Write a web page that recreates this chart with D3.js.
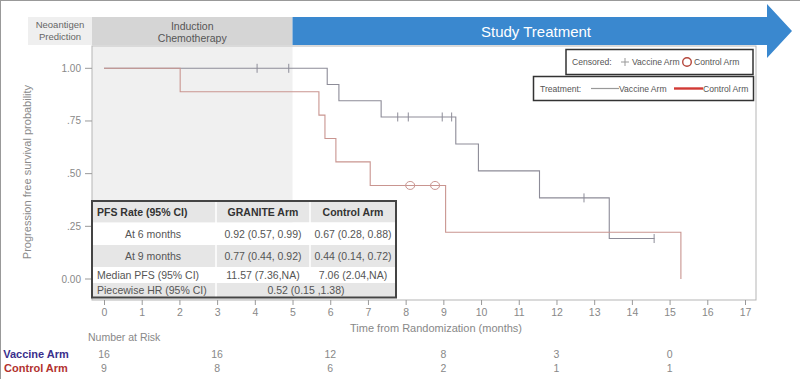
<!DOCTYPE html>
<html><head><meta charset="utf-8">
<script src="https://cdn.jsdelivr.net/npm/d3@7"></script>
<style>
body{margin:0;background:#fff;}
svg{display:block;font-family:"Liberation Sans",Arial,sans-serif;}
</style></head>
<body>
<svg id="c" width="800" height="379"></svg>
<script>
// ---- data ----
const xTicks = d3.range(0, 18);
const yTicks = [0, 0.25, 0.5, 0.75, 1];
const yTickLabels = ["0.00", ".25", ".50", ".75", "1.00"];

const vaccineTimes = [0, 5.92, 6.23, 7.35, 9.33, 9.93, 11.55, 13.40, 14.60];
const vaccineSurv  = [1, 0.923, 0.846, 0.769, 0.641, 0.513, 0.385, 0.192, 0.192];
const vaccineCensor = [4.06, 4.90, 7.79, 8.07, 8.97, 9.22, 12.73, 14.59];

const controlTimes = [0, 2.02, 5.70, 5.86, 6.15, 7.06, 9.06, 15.30];
const controlSurv  = [1, 0.889, 0.778, 0.667, 0.556, 0.444, 0.222, 0];
const controlCensor = [8.12, 8.78];

const riskTimes = [0, 3, 6, 9, 12, 15];
const vaccineRisk = [16, 16, 12, 8, 3, 0];
const controlRisk = [9, 8, 6, 2, 1, 1];

const tableHeader = ["PFS Rate (95% CI)", "GRANITE Arm", "Control Arm"];
const tableRow6 = ["At 6 months", "0.92 (0.57, 0.99)", "0.67 (0.28, 0.88)"];
const tableRow9 = ["At 9 months", "0.77 (0.44, 0.92)", "0.44 (0.14, 0.72)"];
const tableMedian = ["Median PFS (95% CI)", "11.57 (7.36,NA)", "7.06 (2.04,NA)"];
const tableHR = ["Piecewise HR (95% CI)", "0.52 (0.15 ,1.38)"];

// ---- drawing ----
const svg = d3.select("#c");
const x = d3.scaleLinear().domain([0, 17]).range([104, 745]);
const y = d3.scaleLinear().domain([0, 1]).range([279, 68.3]);

const vCol = "#8d8c98", cCol = "#c99590";

// outer border (top & left)
svg.append("line").attr("x1",0).attr("x2",800).attr("y1",0.5).attr("y2",0.5).attr("stroke","#999");
svg.append("line").attr("x1",0.5).attr("x2",0.5).attr("y1",0).attr("y2",379).attr("stroke","#999");

// shaded induction region
svg.append("rect").attr("x",92).attr("y",47).attr("width",x(5)-92).attr("height",300-47).attr("fill","#f0f0f0");

// plot frame
svg.append("rect").attr("x",92).attr("y",46).attr("width",756-92).attr("height",300-46)
  .attr("fill","none").attr("stroke","#b5b5b5").attr("stroke-width",1);

// header boxes
svg.append("rect").attr("x",28).attr("y",17).attr("width",64).attr("height",28).attr("fill","#efefef");
svg.append("rect").attr("x",92).attr("y",17).attr("width",x(5)-92).attr("height",28).attr("fill","#d5d5d5");
const hdrT = svg.append("g").attr("fill","#666");
hdrT.append("text").attr("x",60).attr("y",28).attr("text-anchor","middle").attr("font-size",9.5).text("Neoantigen");
hdrT.append("text").attr("x",60).attr("y",40).attr("text-anchor","middle").attr("font-size",9.5).text("Prediction");
hdrT.append("text").attr("x",(92+x(5))/2).attr("y",30).attr("text-anchor","middle").attr("font-size",10.5).attr("fill","#555").text("Induction");
hdrT.append("text").attr("x",(92+x(5))/2).attr("y",41.5).attr("text-anchor","middle").attr("font-size",10.5).attr("fill","#555").text("Chemotherapy");

// blue arrow
const ax0 = x(5), ab = 767;
svg.append("path")
  .attr("d", `M${ax0},17 L${ab},17 L${ab},4 L792,31 L${ab},58 L${ab},45 L${ax0},45 Z`)
  .attr("fill","#3a88cf");
svg.append("text").attr("x",536).attr("y",36.5).attr("text-anchor","middle").attr("font-size",15)
  .attr("fill","#fff").text("Study Treatment");

// y axis ticks
const yg = svg.append("g");
yTicks.forEach((t,i)=>{
  yg.append("line").attr("x1",85).attr("x2",92).attr("y1",y(t)).attr("y2",y(t)).attr("stroke","#999");
  yg.append("text").attr("x",81).attr("y",y(t)+3.5).attr("text-anchor","end").attr("font-size",10)
    .attr("fill","#888").text(yTickLabels[i]);
});
svg.append("text").attr("transform","translate(31,172) rotate(-90)").attr("text-anchor","middle")
  .attr("font-size",11).attr("fill","#8a8a8a").text("Progression free survival probability");

// x axis
const narrow = "'Liberation Sans',Arial,sans-serif";
const xg = svg.append("g").attr("transform","translate(0,300)")
  .call(d3.axisBottom(x).tickValues(xTicks).tickFormat(d3.format("d")).tickSize(5).tickPadding(4));
xg.select(".domain").remove();
xg.selectAll("line").attr("stroke","#999");
xg.selectAll("text").attr("fill","#888").attr("font-size",10.5).attr("font-family",narrow);
svg.append("text").attr("x",436).attr("y",332).attr("text-anchor","middle").attr("font-size",11)
  .attr("fill","#888").attr("font-family",narrow)
  .text("Time from Randomization (months)");

// KM curves
const line = d3.line().x(d=>x(d[0])).y(d=>y(d[1])).curve(d3.curveStepAfter);
const vPts = vaccineTimes.map((t,i)=>[t, vaccineSurv[i]]);
const cPts = controlTimes.map((t,i)=>[t, controlSurv[i]]);
svg.append("path").attr("d",line(vPts)).attr("fill","none").attr("stroke",vCol).attr("stroke-width",1.1);
svg.append("path").attr("d",line(cPts)).attr("fill","none").attr("stroke",cCol).attr("stroke-width",1.1);

function survAt(times, surv, t){ let s = surv[0]; for(let i=0;i<times.length;i++){ if(times[i]<=t) s=surv[i]; } return s; }
vaccineCensor.forEach(t=>{
  const s = survAt(vaccineTimes, vaccineSurv, t);
  svg.append("line").attr("x1",x(t)).attr("x2",x(t)).attr("y1",y(s)-4.5).attr("y2",y(s)+4.5)
    .attr("stroke",vCol).attr("stroke-width",1);
});
controlCensor.forEach(t=>{
  const s = survAt(controlTimes, controlSurv, t);
  svg.append("ellipse").attr("cx",x(t)).attr("cy",y(s)).attr("rx",4.5).attr("ry",4)
    .attr("fill","none").attr("stroke",cCol).attr("stroke-width",1);
});

// legends
const lf = 8.6;
const lg1 = svg.append("g");
lg1.append("rect").attr("x",566).attr("y",49.5).attr("width",187).attr("height",25)
  .attr("fill","#fff").attr("stroke","#333").attr("stroke-width",1.5);
lg1.append("text").attr("x",572).attr("y",65).attr("font-size",lf).attr("fill","#555").text("Censored:");
lg1.append("line").attr("x1",621).attr("x2",629).attr("y1",62).attr("y2",62).attr("stroke","#999");
lg1.append("line").attr("x1",625).attr("x2",625).attr("y1",58).attr("y2",66).attr("stroke","#999");
lg1.append("text").attr("x",632).attr("y",65).attr("font-size",lf).attr("fill","#555").text("Vaccine Arm");
lg1.append("circle").attr("cx",687).attr("cy",62).attr("r",4.3).attr("fill","none").attr("stroke","#b5473c").attr("stroke-width",1.4);
lg1.append("text").attr("x",694).attr("y",65).attr("font-size",lf).attr("fill","#555").text("Control Arm");

const lg2 = svg.append("g");
lg2.append("rect").attr("x",533.5).attr("y",76.5).attr("width",220).attr("height",24)
  .attr("fill","#fff").attr("stroke","#333").attr("stroke-width",1.5);
lg2.append("text").attr("x",540).attr("y",91.5).attr("font-size",lf).attr("fill","#555").text("Treatment:");
lg2.append("line").attr("x1",591).attr("x2",619).attr("y1",88.5).attr("y2",88.5).attr("stroke","#999").attr("stroke-width",1.2);
lg2.append("text").attr("x",619).attr("y",91.5).attr("font-size",lf).attr("fill","#555").text("Vaccine Arm");
lg2.append("line").attr("x1",674).attr("x2",703).attr("y1",88.5).attr("y2",88.5).attr("stroke","#d23a35").attr("stroke-width",2.4);
lg2.append("text").attr("x",703).attr("y",91.5).attr("font-size",lf).attr("fill","#555").text("Control Arm");

// table
const tb = svg.append("g");
const c0 = 92, c1 = 216, c2 = 310, c3 = 396;
const rowsY = [201, 222.5, 245, 267, 283, 297.5];
const grayRows = [0, 2, 4];
grayRows.forEach(r=>{
  tb.append("rect").attr("x",c0).attr("y",rowsY[r]).attr("width",c3-c0).attr("height",rowsY[r+1]-rowsY[r]).attr("fill","#e6e6e6");
});
tb.append("rect").attr("x",c0).attr("y",rowsY[1]).attr("width",c3-c0).attr("height",rowsY[2]-rowsY[1]).attr("fill","#fff");
tb.append("rect").attr("x",c0).attr("y",rowsY[3]).attr("width",c3-c0).attr("height",rowsY[4]-rowsY[3]).attr("fill","#fff");
[c1, c2].forEach(cx=>{
  tb.append("line").attr("x1",cx).attr("x2",cx).attr("y1",rowsY[0]).attr("y2",rowsY[3]).attr("stroke","#fff").attr("stroke-width",1.5);
});
tb.append("line").attr("x1",c1).attr("x2",c1).attr("y1",rowsY[4]).attr("y2",rowsY[5]).attr("stroke","#fff").attr("stroke-width",1.5);

const mid1 = (c1+c2)/2, mid2 = (c2+c3)/2;
function cellText(txt, xx, yy, anchor, bold){
  tb.append("text").attr("x",xx).attr("y",yy).attr("text-anchor",anchor).attr("font-size",10.5)
    .attr("font-weight",bold?"bold":"normal").attr("fill",bold?"#333":"#555").text(txt);
}
const ty = i => (rowsY[i]+rowsY[i+1])/2 + 3.8;
cellText(tableHeader[0], 97, ty(0), "start", true);
cellText(tableHeader[1], mid1, ty(0), "middle", true);
cellText(tableHeader[2], mid2, ty(0), "middle", true);
cellText(tableRow6[0], 153, ty(1), "middle");
cellText(tableRow6[1], mid1, ty(1), "middle");
cellText(tableRow6[2], mid2, ty(1), "middle");
cellText(tableRow9[0], 153, ty(2), "middle");
cellText(tableRow9[1], mid1, ty(2), "middle");
cellText(tableRow9[2], mid2, ty(2), "middle");
cellText(tableMedian[0], 97, ty(3), "start");
cellText(tableMedian[1], mid1, ty(3), "middle");
cellText(tableMedian[2], mid2, ty(3), "middle");
cellText(tableHR[0], 97, ty(4), "start");
cellText(tableHR[1], (c1+c3)/2, ty(4), "middle");
tb.append("rect").attr("x",c0).attr("y",rowsY[0]).attr("width",c3-c0).attr("height",rowsY[5]-rowsY[0])
  .attr("fill","none").attr("stroke","#444").attr("stroke-width",2);

// number at risk
svg.append("text").attr("x",88).attr("y",341).attr("font-size",10.5).attr("fill","#888")
  .attr("font-family",narrow).text("Number at Risk");
svg.append("text").attr("x",36).attr("y",358).attr("text-anchor","middle").attr("font-size",11)
  .attr("font-weight","bold").attr("fill","#3a2f8c").attr("font-family",narrow).text("Vaccine Arm");
svg.append("text").attr("x",36).attr("y",372).attr("text-anchor","middle").attr("font-size",11)
  .attr("font-weight","bold").attr("fill","#b2322f").attr("font-family",narrow).text("Control Arm");
riskTimes.forEach((t,i)=>{
  svg.append("text").attr("x",x(t)).attr("y",358).attr("text-anchor","middle").attr("font-size",10.5)
    .attr("fill","#888").attr("font-family",narrow).text(vaccineRisk[i]);
  svg.append("text").attr("x",x(t)).attr("y",372).attr("text-anchor","middle").attr("font-size",10.5)
    .attr("fill","#888").attr("font-family",narrow).text(controlRisk[i]);
});
</script>
</body></html>
